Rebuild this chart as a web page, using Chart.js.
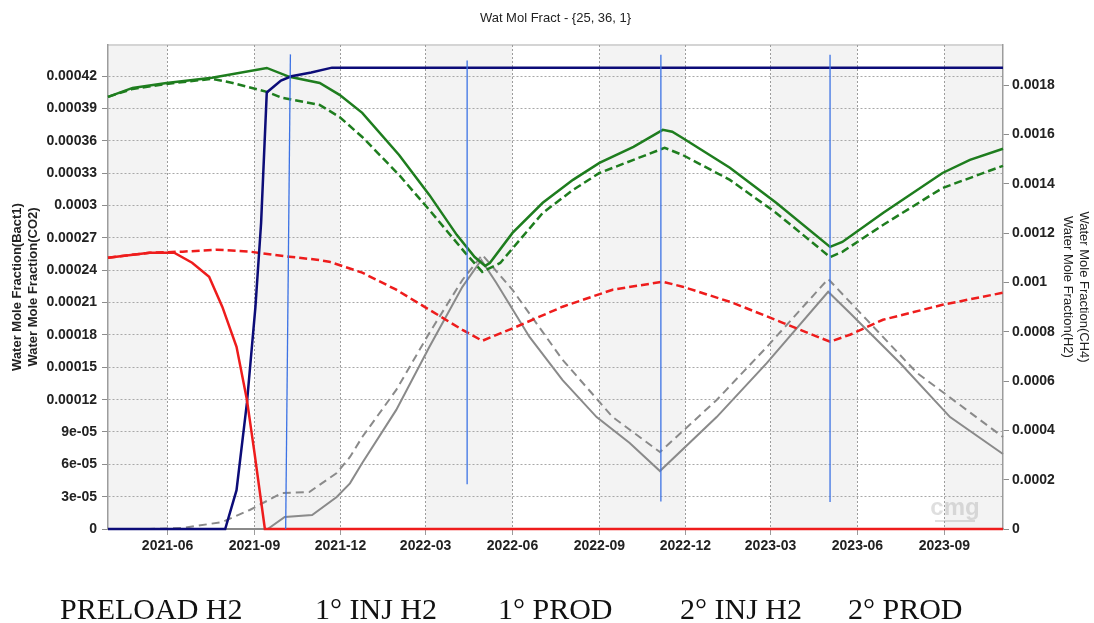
<!DOCTYPE html>
<html>
<head>
<meta charset="utf-8">
<script src="https://cdn.jsdelivr.net/npm/chart.js@4"></script>
<style>
  body { margin: 0; background: #fff; }
  #wrap { position: relative; width: 1094px; height: 623px; background: #fff; }
  #title { position: absolute; top: 10px; left: 0; width: 1111px; text-align: center;
           font: 13px 'Liberation Sans', Arial, sans-serif; line-height: 16px; color: #222; }
  .phase { position: absolute; top: 594px; font: 30px 'Liberation Serif', 'Times New Roman', serif;
           line-height: 30px; color: #111; white-space: nowrap; }
</style>
</head>
<body>
<div id="wrap">
  <canvas id="chart"></canvas>
  <div id="title">Wat Mol Fract - {25, 36, 1}</div>
</div>
<script>
// time range of the x axis
const START = '2021-03-30';
const END = '2023-11-02';
const xTickLabels = ['2021-06', '2021-09', '2021-12', '2022-03', '2022-06',
                     '2022-09', '2022-12', '2023-03', '2023-06', '2023-09'];

// Bact1 (left axis)
const bact1Dates = ['2021-03-30', '2021-08-01', '2021-08-13', '2021-08-24', '2021-09-02', '2021-09-08',
                    '2021-09-14', '2021-09-29', '2021-10-10', '2021-10-31', '2021-11-22', '2023-11-02'];
const bact1Vals = [0, 0, 3.6e-5, 1.17e-4, 2.06e-4, 2.84e-4, 4.05e-4, 4.16e-4, 4.20e-4, 4.235e-4, 4.28e-4, 4.28e-4];

// CO2 (left axis) - solid run
const co2Dates = ['2021-03-30', '2021-05-13', '2021-06-08', '2021-06-27', '2021-07-15', '2021-07-29',
                  '2021-08-13', '2021-08-24', '2021-09-01', '2021-09-12', '2023-11-02'];
const co2Vals = [2.517e-4, 2.563e-4, 2.563e-4, 2.47e-4, 2.34e-4, 2.06e-4, 1.69e-4, 1.198e-4, 7.06e-5, 0, 0];

// CO2 (left axis) - dashed run
const co2bDates = ['2021-03-30', '2021-05-13', '2021-06-17', '2021-07-23', '2021-08-27', '2021-10-08',
                   '2021-11-06', '2021-11-19', '2021-12-24', '2022-01-29', '2022-03-05', '2022-04-09',
                   '2022-04-30', '2022-06-05', '2022-07-24', '2022-09-15', '2022-11-07', '2022-11-28',
                   '2023-01-20', '2023-03-14', '2023-05-03', '2023-05-24', '2023-06-28', '2023-08-30', '2023-11-02'];
const co2bVals = [2.517e-4, 2.563e-4, 2.573e-4, 2.591e-4, 2.573e-4, 2.526e-4,
                  2.498e-4, 2.48e-4, 2.378e-4, 2.22e-4, 2.034e-4, 1.848e-4,
                  1.746e-4, 1.876e-4, 2.062e-4, 2.22e-4, 2.294e-4, 2.248e-4,
                  2.099e-4, 1.913e-4, 1.737e-4, 1.802e-4, 1.941e-4, 2.08e-4, 2.192e-4];

// CH4 (right axis) - solid run
const ch4Dates = ['2021-03-30', '2021-04-25', '2021-05-31', '2021-07-18', '2021-09-14', '2021-10-08',
                  '2021-11-09', '2021-11-30', '2021-12-24', '2022-02-01', '2022-03-05', '2022-04-03',
                  '2022-04-22', '2022-05-03', '2022-05-08', '2022-06-01', '2022-07-03', '2022-08-04',
                  '2022-09-01', '2022-10-07', '2022-11-07', '2022-11-17', '2022-11-28', '2023-01-17',
                  '2023-03-07', '2023-05-03', '2023-05-16', '2023-06-28', '2023-08-30', '2023-09-28', '2023-11-02'];
const ch4Vals = [1.7526e-3, 1.789e-3, 1.809e-3, 1.830e-3, 1.870e-3, 1.834e-3,
                 1.809e-3, 1.761e-3, 1.688e-3, 1.517e-3, 1.355e-3, 1.193e-3,
                 1.103e-3, 1.067e-3, 1.079e-3, 1.201e-3, 1.323e-3, 1.416e-3,
                 1.485e-3, 1.550e-3, 1.619e-3, 1.611e-3, 1.586e-3, 1.465e-3,
                 1.323e-3, 1.144e-3, 1.164e-3, 1.282e-3, 1.444e-3, 1.497e-3, 1.542e-3];

// CH4 (right axis) - dashed run
const ch4bDates = ['2021-03-30', '2021-04-25', '2021-05-31', '2021-07-18', '2021-08-09', '2021-09-14',
                   '2021-09-30', '2021-11-09', '2021-11-30', '2021-12-24', '2022-02-01', '2022-03-05',
                   '2022-04-12', '2022-04-30', '2022-05-19', '2022-07-03', '2022-08-04', '2022-09-01',
                   '2022-10-07', '2022-11-09', '2022-11-28', '2023-01-17', '2023-03-07', '2023-05-03',
                   '2023-05-16', '2023-06-28', '2023-08-30', '2023-11-02'];
const ch4bVals = [1.7526e-3, 1.785e-3, 1.805e-3, 1.826e-3, 1.809e-3, 1.773e-3,
                  1.749e-3, 1.720e-3, 1.671e-3, 1.590e-3, 1.436e-3, 1.294e-3,
                  1.120e-3, 1.043e-3, 1.079e-3, 1.282e-3, 1.375e-3, 1.444e-3,
                  1.497e-3, 1.546e-3, 1.517e-3, 1.416e-3, 1.282e-3, 1.103e-3,
                  1.124e-3, 1.233e-3, 1.383e-3, 1.473e-3];

// H2 (right axis) - solid run
const h2Dates = ['2021-03-30', '2021-09-15', '2021-10-03', '2021-11-01', '2021-11-27', '2021-12-11',
                 '2021-12-24', '2022-01-29', '2022-03-05', '2022-04-09', '2022-04-29', '2022-05-15',
                 '2022-06-19', '2022-07-24', '2022-08-29', '2022-10-03', '2022-11-04', '2023-01-03',
                 '2023-02-25', '2023-05-01', '2023-05-24', '2023-07-16', '2023-09-07', '2023-11-02'];
const h2Vals = [0, 0, 4.87e-5, 5.68e-5, 1.30e-4, 1.85e-4,
                2.68e-4, 4.83e-4, 7.38e-4, 9.82e-4, 1.091e-3, 9.98e-4,
                7.79e-4, 6.04e-4, 4.54e-4, 3.49e-4, 2.35e-4, 4.54e-4,
                6.73e-4, 9.62e-4, 8.76e-4, 6.73e-4, 4.54e-4, 3.04e-4];

// H2 (right axis) - dashed run
const h2bDates = ['2021-03-30', '2021-05-13', '2021-06-17', '2021-07-29', '2021-08-27', '2021-09-30',
                  '2021-10-29', '2021-11-27', '2021-12-11', '2021-12-24', '2022-01-29', '2022-03-05',
                  '2022-04-09', '2022-04-30', '2022-06-01', '2022-07-24', '2022-09-15', '2022-11-04',
                  '2023-01-03', '2023-02-25', '2023-05-01', '2023-06-11', '2023-08-03', '2023-11-02'];
const h2bVals = [0, 0, 4e-6, 2.84e-5, 7.71e-5, 1.46e-4,
                 1.50e-4, 2.27e-4, 2.92e-4, 3.73e-4, 5.64e-4, 7.95e-4,
                 1.010e-3, 1.112e-3, 9.70e-4, 6.86e-4, 4.54e-4, 3.12e-4,
                 5.23e-4, 7.38e-4, 1.014e-3, 8.48e-4, 6.33e-4, 3.73e-4];

// hand-drawn phase separators (left axis values), bottom point then top point
const phaseLineBottomDates = ['2021-10-04', '2022-04-14', '2022-11-05', '2023-05-03'];
const phaseLineTopDates = ['2021-10-09', '2022-04-14', '2022-11-05', '2023-05-03'];
const phaseLineBottom = [0, 4.15e-5, 2.54e-5, 2.51e-5];
const phaseLineTop = [4.403e-4, 4.347e-4, 4.40e-4, 4.40e-4];

// phase captions under the chart
const phaseLabels = ['PRELOAD H2', '1° INJ H2', '1° PROD', '2° INJ H2', '2° PROD'];
const phaseLabelX = [60, 315, 498, 680, 848];

const DAY = 86400000;
function dayOf(s) { return (Date.parse(s) - Date.parse(START)) / DAY; }

function series(dates, vals, axis, color, dash, width) {
    return {
        data: dates.map((d, i) => ({ x: dayOf(d), y: vals[i] })),
        yAxisID: axis,
        borderColor: color,
        borderDash: dash,
        borderWidth: width,
        pointRadius: 0,
        tension: 0,
        fill: false,
        clip: 6
    };
}

const NAVY = '#0c0c78', GREEN = '#1e7d1e', RED = '#ee1c1c', GREY = '#8a8a8a', BLUE = '#3c72e4';

const datasets = [];
phaseLineTop.forEach((top, i) => {
    datasets.push({
        data: [{ x: dayOf(phaseLineBottomDates[i]), y: phaseLineBottom[i] },
               { x: dayOf(phaseLineTopDates[i]), y: top }],
        yAxisID: 'y', borderColor: BLUE, borderWidth: 1.3, pointRadius: 0, fill: false
    });
});
datasets.push(series(co2Dates, co2Vals, 'y', RED, [], 2.5));
datasets.push(series(bact1Dates, bact1Vals, 'y', NAVY, [], 2.5));
datasets.push(series(ch4Dates, ch4Vals, 'y2', GREEN, [], 2.5));
datasets.push(series(ch4bDates, ch4bVals, 'y2', GREEN, [8, 4], 2.5));
datasets.push(series(co2bDates, co2bVals, 'y', RED, [8, 4], 2.5));
datasets.push(series(h2Dates, h2Vals, 'y2', GREY, [], 2));
datasets.push(series(h2bDates, h2bVals, 'y2', GREY, [8, 5], 2));

// alternating bands, top frame and faint logo behind the grid
const backdrop = {
    id: 'backdrop',
    beforeDraw(chart) {
        const { ctx, chartArea: a, scales: { x } } = chart;
        const edges = [a.left].concat(xTickLabels.map(l => x.getPixelForValue(dayOf(l + '-01'))), [a.right]);
        ctx.save();
        for (let i = 0; i < edges.length - 1; i++) {
            ctx.fillStyle = i % 2 === 0 ? '#f3f3f3' : '#ffffff';
            ctx.fillRect(edges[i], a.top, edges[i + 1] - edges[i], a.bottom - a.top);
        }
        ctx.strokeStyle = '#d4d4d4';
        ctx.lineWidth = 2;
        ctx.beginPath();
        ctx.moveTo(a.left, a.top);
        ctx.lineTo(a.right, a.top);
        ctx.stroke();
        ctx.fillStyle = 'rgba(150,150,150,0.3)';
        ctx.font = 'bold 24px "Liberation Sans", Arial, sans-serif';
        ctx.textAlign = 'center';
        ctx.fillText('cmg', a.right - 48, a.bottom - 14);
        ctx.fillRect(a.right - 68, a.bottom - 9, 40, 2);
        ctx.restore();
    }
};

const tickFont = { size: 14, weight: 'bold' };
function fmtLeft(v) {
    if (v === 0) return '0';
    if (v < 0.0001) return Math.round(v * 1e5) + 'e-05';
    return String(+v.toPrecision(2));
}
function fmtRight(v) {
    if (v === 0) return '0';
    return String(+v.toPrecision(2));
}

Chart.defaults.font.family = "'Liberation Sans', Arial, sans-serif";
Chart.defaults.color = '#222';

new Chart(document.getElementById('chart'), {
    type: 'line',
    data: { datasets: datasets },
    plugins: [backdrop],
    options: {
        responsive: true,
        maintainAspectRatio: false,
        animation: false,
        layout: { padding: { top: 45, left: 0, right: 0, bottom: 0 } },
        plugins: { legend: { display: false }, tooltip: { enabled: false } },
        scales: {
            x: {
                type: 'linear',
                min: 0,
                max: dayOf(END),
                afterBuildTicks: scale => { scale.ticks = xTickLabels.map(l => ({ value: dayOf(l + '-01') })); },
                afterFit: scale => { scale.height = 94; },
                ticks: {
                    autoSkip: false, maxRotation: 0, padding: 3, font: tickFont, color: '#222',
                    callback: (value, i) => xTickLabels[i]
                },
                grid: { color: '#9c9c9c', tickLength: 6, tickColor: '#9c9c9c' },
                border: { color: '#9c9c9c', width: 1.5, dash: [2, 2] }
            },
            y: {
                position: 'left',
                min: 0,
                max: 0.000449,
                afterFit: scale => { scale.width = 108; },
                ticks: { stepSize: 0.00003, includeBounds: false, padding: 5, font: tickFont, color: '#222', callback: fmtLeft },
                grid: { color: '#a8a8a8', tickLength: 6, tickColor: '#8c8c8c' },
                border: { color: '#9c9c9c', width: 1.5, dash: [2, 2] },
                title: {
                    display: true,
                    text: ['Water Mole Fraction(Bact1)', 'Water Mole Fraction(CO2)'],
                    font: { size: 13, weight: 'bold' },
                    color: '#222',
                    padding: { top: 10, bottom: 0 }
                }
            },
            y2: {
                position: 'right',
                min: 0,
                max: 0.001963,
                afterFit: scale => { scale.width = 91; },
                ticks: { stepSize: 0.0002, includeBounds: false, padding: 3, font: tickFont, color: '#222', callback: fmtRight },
                grid: { drawOnChartArea: false, tickLength: 6, tickColor: '#8c8c8c' },
                border: { color: '#9c9c9c', width: 1.5 },
                title: {
                    display: true,
                    text: ['Water Mole Fraction(CH4)', 'Water Mole Fraction(H2)'],
                    font: { size: 13 },
                    color: '#222',
                    padding: { top: 3, bottom: 0 }
                }
            }
        }
    }
});

const wrap = document.getElementById('wrap');
phaseLabels.forEach((t, i) => {
    const d = document.createElement('div');
    d.className = 'phase';
    d.style.left = phaseLabelX[i] + 'px';
    d.textContent = t;
    wrap.appendChild(d);
});
</script>
</body>
</html>
